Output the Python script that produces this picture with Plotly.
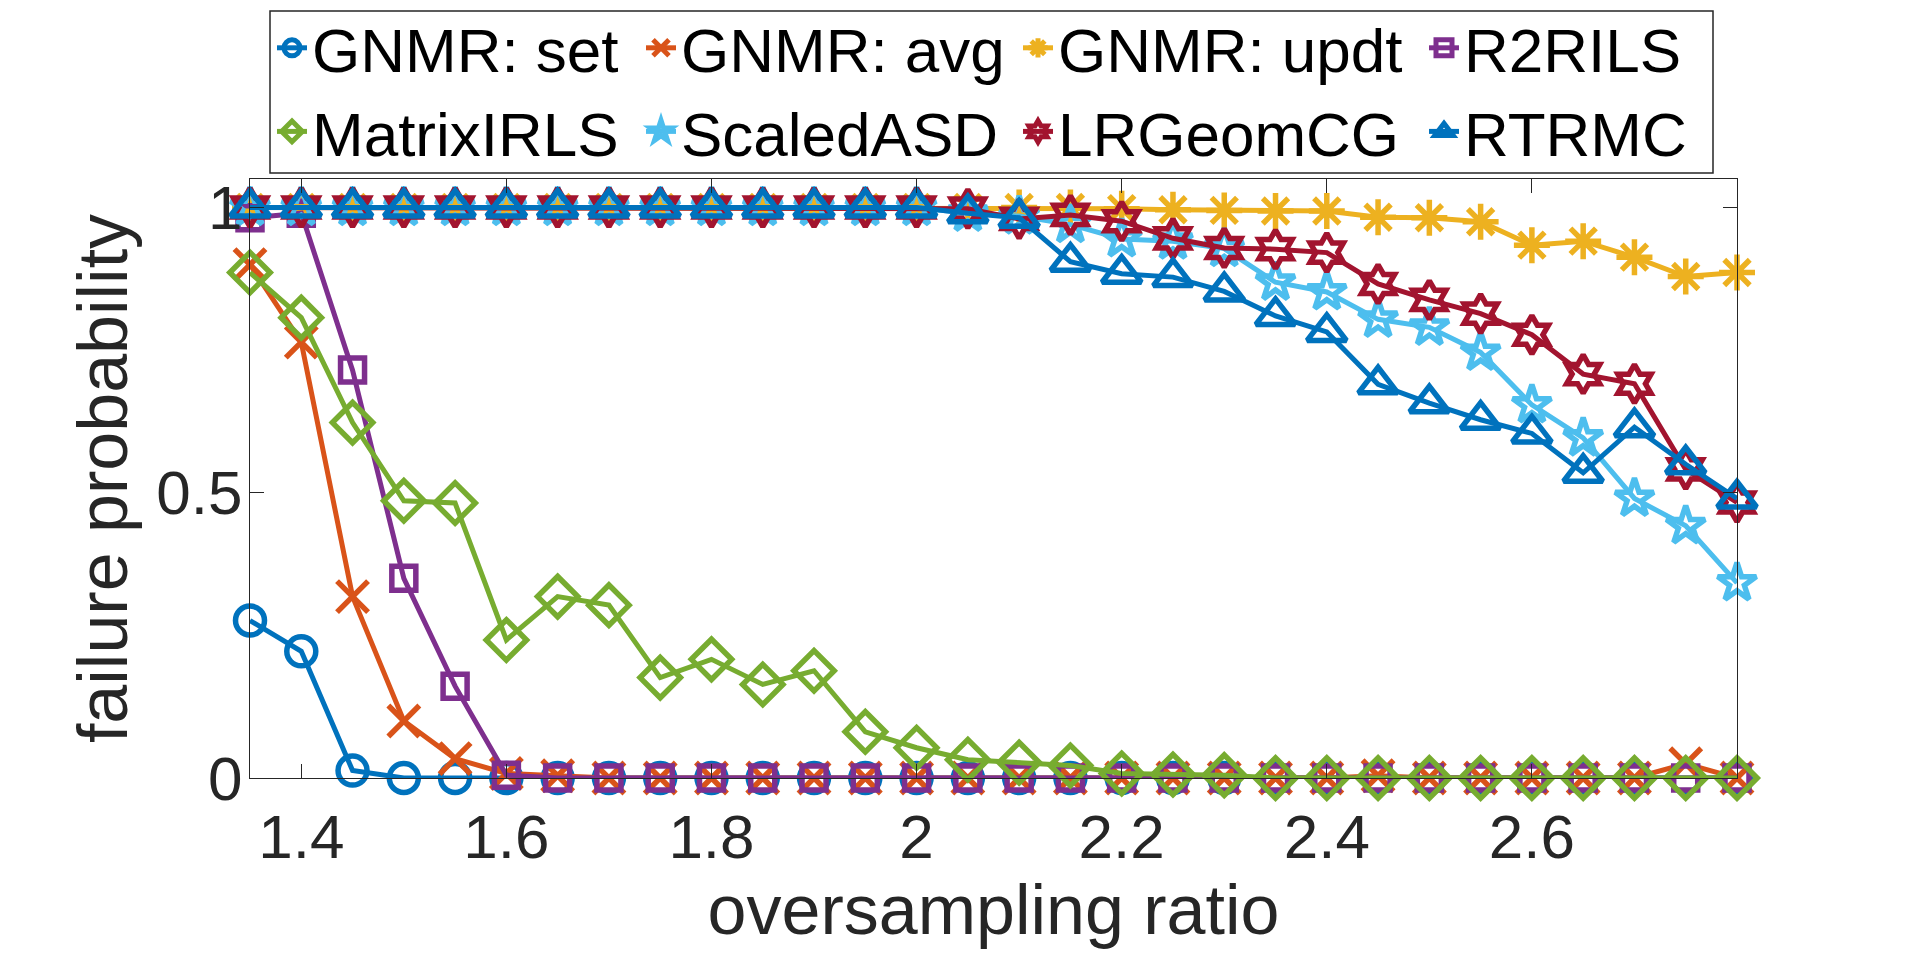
import plotly.graph_objects as go

# ── data ────────────────────────────────────────────────────
ratio = [1.35, 1.40, 1.45, 1.50, 1.55, 1.60, 1.65, 1.70, 1.75, 1.80,
         1.85, 1.90, 1.95, 2.00, 2.05, 2.10, 2.15, 2.20, 2.25, 2.30,
         2.35, 2.40, 2.45, 2.50, 2.55, 2.60, 2.65, 2.70, 2.75, 2.80]

gnmr_set = [0.276, 0.222, 0.013, 0, 0, 0, 0, 0, 0, 0,
            0, 0, 0, 0, 0, 0, 0, 0, 0, 0,
            0, 0, 0, 0, 0, 0, 0, 0, 0, 0]
gnmr_avg = [0.900, 0.764, 0.318, 0.100, 0.034, 0.008, 0.004, 0, 0, 0,
            0, 0, 0, 0, 0, 0, 0, 0, 0, 0,
            0, 0, 0.004, 0, 0, 0, 0, 0, 0.025, 0]
gnmr_updt = [1, 1, 1, 1, 1, 1, 1, 1, 1, 1,
             1, 1, 1, 1, 1, 1.0, 1.0, 0.998, 0.996, 0.995,
             0.994, 0.994, 0.983, 0.982, 0.975, 0.934, 0.941, 0.913, 0.879, 0.886]
r2rils = [0.982, 0.990, 0.715, 0.350, 0.161, 0.005, 0, 0, 0, 0,
          0, 0, 0, 0, 0, 0, 0, 0, 0, 0,
          0, 0, 0, 0, 0, 0, 0, 0, 0, 0]
matrix_irls = [0.886, 0.807, 0.623, 0.486, 0.482, 0.242, 0.318, 0.303, 0.176, 0.208,
               0.164, 0.188, 0.081, 0.053, 0.032, 0.027, 0.022, 0.008, 0.006, 0.005,
               0, 0, 0, 0, 0, 0, 0, 0, 0, 0]
scaled_asd = [1, 1, 1, 1, 1, 1, 1, 1, 1, 1,
              1, 1, 1, 1, 0.990, 0.985, 0.970, 0.945, 0.941, 0.928,
              0.869, 0.852, 0.804, 0.790, 0.746, 0.654, 0.596, 0.490, 0.442, 0.342]
lrgeom_cg = [1, 1, 1, 1, 1, 1, 1, 1, 1, 1,
             1, 1, 1, 1, 0.998, 0.980, 0.987, 0.976, 0.946, 0.929,
             0.927, 0.921, 0.866, 0.838, 0.814, 0.777, 0.708, 0.691, 0.541, 0.483]
rtrmc = [1, 1, 1, 1, 1, 1, 1, 1, 1, 1,
         1, 1, 1, 1, 0.990, 0.982, 0.905, 0.884, 0.878, 0.853,
         0.810, 0.782, 0.690, 0.657, 0.628, 0.604, 0.535, 0.615, 0.550, 0.490]

x_tick_vals = [1.4, 1.6, 1.8, 2.0, 2.2, 2.4, 2.6]
x_tick_text = ["1.4", "1.6", "1.8", "2", "2.2", "2.4", "2.6"]
y_tick_vals = [0, 0.5, 1]
y_tick_text = ["0", "0.5", "1"]

# ── styling ─────────────────────────────────────────────────
FONT = "Liberation Sans, Arial, Helvetica, sans-serif"
AXIS_GREY = "#262626"
W, H = 1920, 963
L, R, T, B = 250, 1737, 179, 778          # plot area in pixels
PW, PH = R - L, B - T

# name, values, colour, symbol, size, legend column
series = [
    ("GNMR: set", gnmr_set, "#0072BD", "circle-open", 29, "legend"),
    ("GNMR: avg", gnmr_avg, "#D95319", "x-thin-open", 31, "legend2"),
    ("GNMR: updt", gnmr_updt, "#EDB120", "asterisk-open", 30, "legend3"),
    ("R2RILS", r2rils, "#7E2F8E", "square-open", 24, "legend4"),
    ("MatrixIRLS", matrix_irls, "#77AC30", "diamond-open", 31, "legend"),
    ("ScaledASD", scaled_asd, "#4DBEEE", "star-open", 29, "legend2"),
    ("LRGeomCG", lrgeom_cg, "#A2142F", "hexagram-open", 29, "legend3"),
    ("RTRMC", rtrmc, "#0072BD", "triangle-up-open", 34, "legend4"),
]

fig = go.Figure()
for name, vals, color, symbol, size, leg in series:
    fig.add_trace(go.Scatter(
        x=ratio, y=vals, name=name, mode="lines+markers",
        line=dict(color=color, width=5),
        marker=dict(symbol=symbol, size=size, color=color,
                    line=dict(color=color, width=5.5)),
        cliponaxis=False,
        legend=leg,
    ))

axis_common = dict(
    showline=True, linecolor=AXIS_GREY, linewidth=1.3, mirror="ticks",
    ticks="inside", ticklen=14, tickwidth=1.3, tickcolor=AXIS_GREY,
    showgrid=False, zeroline=False,
    tickfont=dict(family=FONT, size=62, color=AXIS_GREY),
)
fig.update_xaxes(
    range=[1.35, 2.8], tickvals=x_tick_vals, ticktext=x_tick_text,
    ticklabelstandoff=4,
    title=dict(text="oversampling ratio", standoff=15,
               font=dict(family=FONT, size=70, color=AXIS_GREY)),
    **axis_common,
)
fig.update_yaxes(
    range=[0, 1.05], tickvals=y_tick_vals, ticktext=y_tick_text,
    ticklabelstandoff=-6,
    title=dict(text="failure probability", standoff=5,
               font=dict(family=FONT, size=70, color=AXIS_GREY)),
    **axis_common,
)

# four legend columns, two rows each, inside one framed box
legend_font = dict(family=FONT, size=62, color="black")
legend_lefts = {"legend": 272, "legend2": 641, "legend3": 1018, "legend4": 1424}
legends = {}
for key, px in legend_lefts.items():
    legends[key] = dict(
        x=(px - L) / PW, xanchor="left",
        y=(B - 1) / PH, yanchor="top",
        orientation="v", bgcolor="rgba(0,0,0,0)", borderwidth=0,
        font=legend_font, itemwidth=30, tracegroupgap=0,
    )

fig.add_shape(
    type="rect", xref="paper", yref="paper",
    x0=(270 - L) / PW, x1=(1713 - L) / PW,
    y0=(B - 173) / PH, y1=(B - 11) / PH,
    line=dict(color=AXIS_GREY, width=1.5), fillcolor="white", layer="below",
)

fig.update_layout(
    width=W, height=H,
    margin=dict(l=L, r=W - R, t=T, b=H - B, autoexpand=False),
    plot_bgcolor="white", paper_bgcolor="white",
    font=dict(family=FONT, color=AXIS_GREY),
    showlegend=True,
    **legends,
)

# page body margin would push the figure 8px off the window origin
fig.write_html("out.html", config={"displayModeBar": False},
               post_script="document.body.style.margin='0';")
